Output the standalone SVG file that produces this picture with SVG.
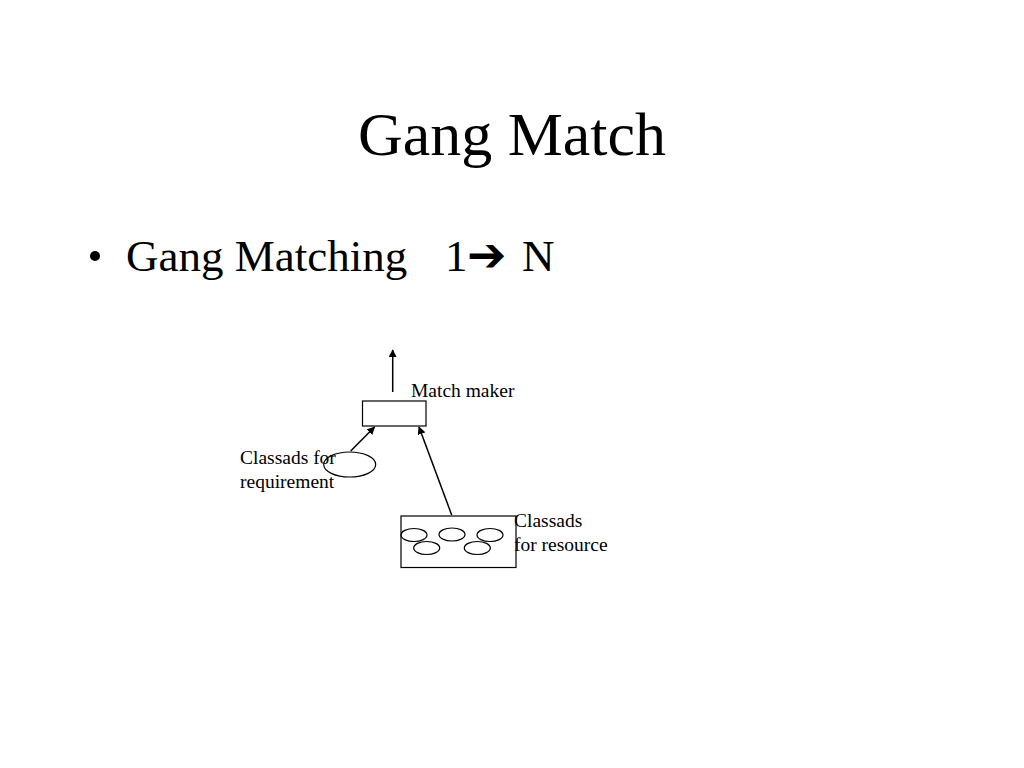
<svg xmlns="http://www.w3.org/2000/svg" width="1024" height="768" viewBox="0 0 1024 768">
<style>
text{font-family:"Liberation Serif","Times New Roman",serif;fill:#000}
.lbl{font-size:19.5px}
.shape{fill:none;stroke:#000;stroke-width:1.2}
.conn{stroke:#000;stroke-width:1.5;fill:none}
</style>
<defs>
<marker id="ah" viewBox="0 0 10 10" refX="9" refY="5" markerWidth="8" markerHeight="8" markerUnits="userSpaceOnUse" orient="auto">
<path d="M0,0 L10,5 L0,10 z" fill="#000"/>
</marker>
</defs>
<rect width="1024" height="768" fill="#fff"/>
<text x="512" y="155" font-size="62" text-anchor="middle">Gang Match</text>
<g id="bullet">
<circle cx="95" cy="256" r="5" fill="#000"/>
<text x="126" y="271" font-size="45">Gang Matching</text>
<text x="445" y="271" font-size="45">1</text>
<text x="467" y="271" font-size="47" font-family="DejaVu Sans,sans-serif">➔</text>
<text x="522" y="271" font-size="45">N</text>
</g>
<g id="matchmaker">
<rect class="shape" x="362.5" y="401" width="63.5" height="25"/>
<text class="lbl" x="411" y="397">Match maker</text>
</g>
<g id="requirement">
<ellipse class="shape" cx="349.7" cy="464.5" rx="26" ry="12.5"/>
<text class="lbl" x="240" y="464">Classads for</text>
<text class="lbl" x="240" y="488">requirement</text>
</g>
<g id="resource">
<rect class="shape" x="401" y="516" width="115" height="51.5"/>
<ellipse class="shape" cx="414" cy="535" rx="13" ry="6.5"/>
<ellipse class="shape" cx="452" cy="534.5" rx="13" ry="6.5"/>
<ellipse class="shape" cx="490" cy="535" rx="13" ry="6.5"/>
<ellipse class="shape" cx="426.7" cy="548" rx="13" ry="6.5"/>
<ellipse class="shape" cx="477.3" cy="548" rx="13" ry="6.5"/>
<text class="lbl" x="514" y="527">Classads</text>
<text class="lbl" x="514" y="551">for resource</text>
</g>
<g id="connectors">
<line class="conn" x1="392.7" y1="392" x2="392.7" y2="350" marker-end="url(#ah)"/>
<line class="conn" x1="350.7" y1="451" x2="374.5" y2="427" marker-end="url(#ah)"/>
<line class="conn" x1="451.7" y1="515" x2="419" y2="427" marker-end="url(#ah)"/>
</g>
</svg>
